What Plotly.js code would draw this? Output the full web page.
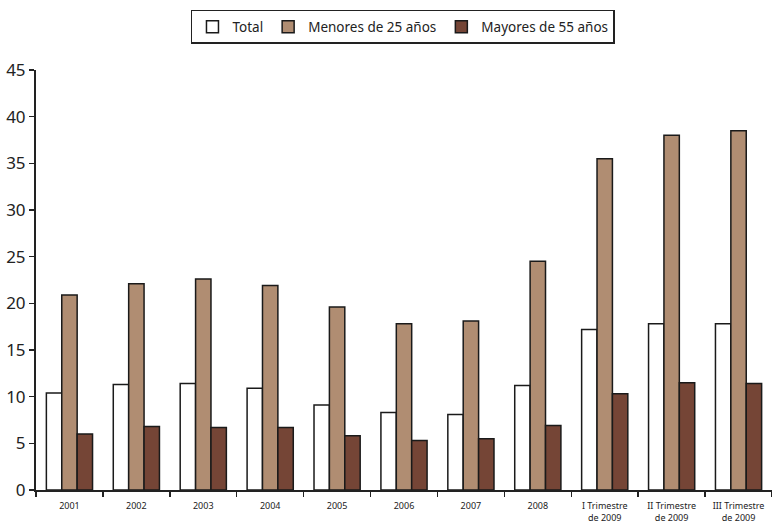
<!DOCTYPE html>
<html>
<head>
<meta charset="utf-8">
<script src="https://cdn.plot.ly/plotly-3.0.1.min.js"></script>
<style>html,body{margin:0;padding:0;background:#fff;}#chart{width:772px;height:525px;}</style>
</head>
<body>
<div id="chart"></div>
<script>
const categories = ["2001","2002","2003","2004","2005","2006","2007","2008","I Trimestre<br>de 2009","II Trimestre<br>de 2009","III Trimestre<br>de 2009"];
const total = [10.4, 11.3, 11.4, 10.9, 9.1, 8.3, 8.1, 11.2, 17.2, 17.8, 17.8];
const menores25 = [20.9, 22.1, 22.6, 21.9, 19.6, 17.8, 18.1, 24.5, 35.5, 38.0, 38.5];
const mayores55 = [6.0, 6.8, 6.7, 6.7, 5.8, 5.3, 5.5, 6.9, 10.3, 11.5, 11.4];
const seriesNames = ["Total", "Menores de 25 años", "Mayores de 55 años"];

const outline = {color: "#1a1a1a", width: 1.5};
const traces = [
  {type: "bar", name: seriesNames[0], x: categories, y: total, marker: {color: "#ffffff", line: outline}},
  {type: "bar", name: seriesNames[1], x: categories, y: menores25, marker: {color: "#b08d72", line: outline}},
  {type: "bar", name: seriesNames[2], x: categories, y: mayores55, marker: {color: "#754536", line: outline}}
];

const layout = {
  width: 772, height: 525,
  margin: {l: 36, r: 0, t: 70, b: 35},
  paper_bgcolor: "#fff", plot_bgcolor: "#fff",
  font: {family: "Noto Sans, sans-serif", color: "#222"},
  barmode: "group",
  bargap: 0.31, bargroupgap: 0,
  showlegend: true,
  legend: {
    orientation: "h", x: 0.4986, xanchor: "center", y: 1.143, yanchor: "top",
    bordercolor: "#222", borderwidth: 1.5, font: {size: 13.5, color: "#222"},
    traceorder: "normal", itemwidth: 30, tracegroupgap: 0
  },
  xaxis: {
    type: "category", tickangle: 0,
    showline: true, linecolor: "#222", linewidth: 2,
    ticks: "outside", tickson: "boundaries", ticklen: 5, tickcolor: "#222", tickwidth: 1.5,
    tickfont: {size: 9, color: "#222"}, ticklabelstandoff: 6,
    showgrid: false, zeroline: false, fixedrange: true
  },
  yaxis: {
    range: [0, 45], dtick: 5,
    showline: true, linecolor: "#222", linewidth: 2,
    ticks: "outside", ticklen: 5, tickcolor: "#222", tickwidth: 1.5,
    tickfont: {size: 17, color: "#222"},
    showgrid: false, zeroline: false
  }
};

Plotly.newPlot("chart", traces, layout, {displayModeBar: false, staticPlot: true});
</script>
</body>
</html>
